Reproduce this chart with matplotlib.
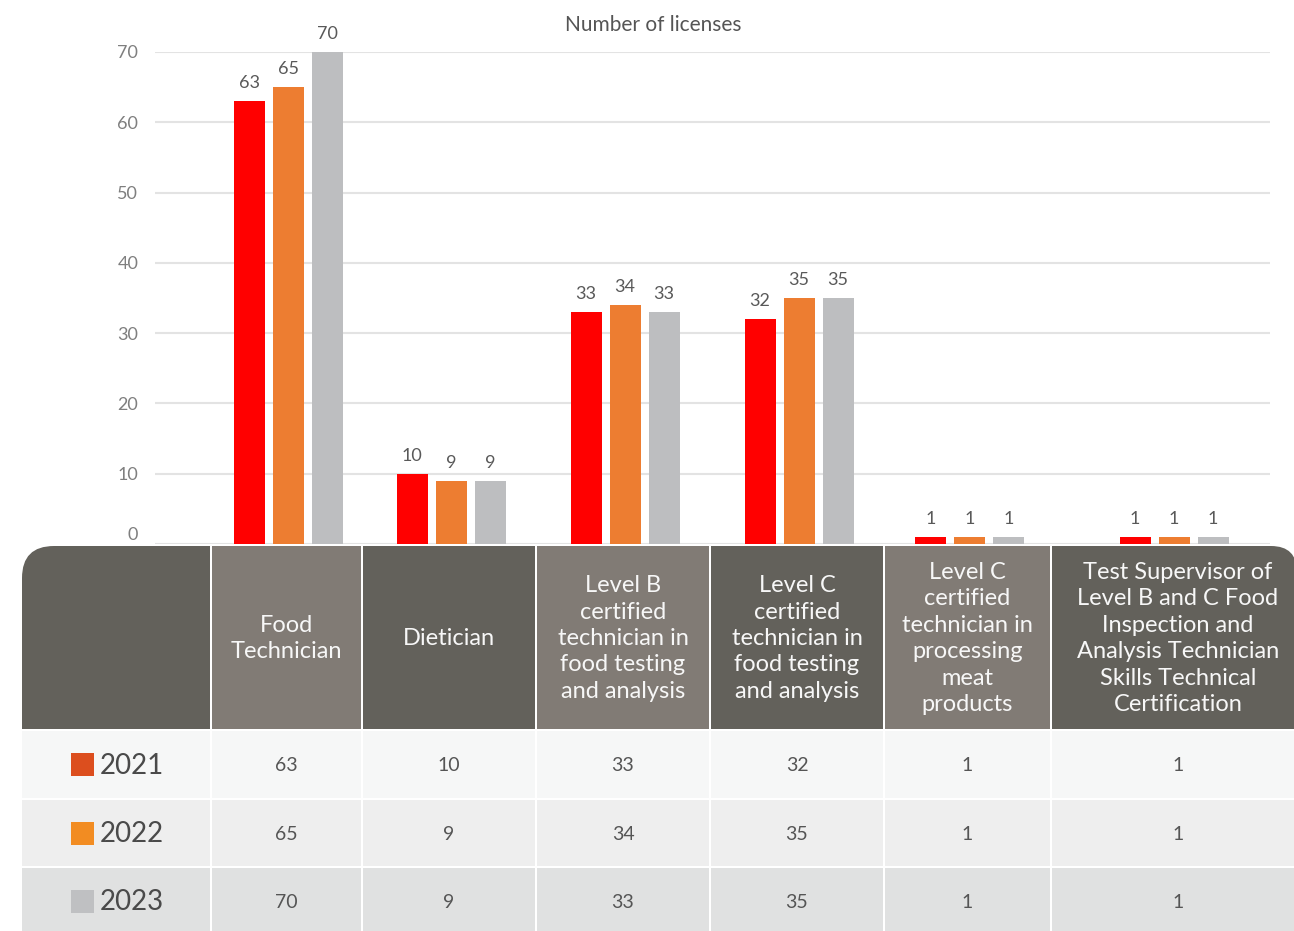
import numpy as np
import matplotlib.pyplot as plt
from matplotlib.patches import Rectangle, FancyBboxPatch
from matplotlib.transforms import ScaledTranslation

plt.rcParams['font.family'] = ['Lato', 'DejaVu Sans']

years = ['2021', '2022', '2023']
categories = ['Food\nTechnician', 'Dietician',
              'Level B\ncertified\ntechnician in\nfood testing\nand analysis',
              'Level C\ncertified\ntechnician in\nfood testing\nand analysis',
              'Level C\ncertified\ntechnician in\nprocessing\nmeat\nproducts',
              'Test Supervisor of\nLevel B and C Food\nInspection and\nAnalysis Technician\nSkills Technical\nCertification']
v2021 = [63, 10, 33, 32, 1, 1]
v2022 = [65, 9, 34, 35, 1, 1]
v2023 = [70, 9, 33, 35, 1, 1]
values = [v2021, v2022, v2023]
yticks = [0, 10, 20, 30, 40, 50, 60, 70]

bar_colors = ['#ff0000', '#ed7d31', '#bdbec0']
key_colors = ['#dc4e1e', '#f28c22', '#bfc0c2']
row_colors = ['#f6f7f7', '#eeeeee', '#e0e1e1']
head_dark = '#63615b'
head_light = '#817b75'

# layout in pixels
W, H = 1294, 931
edges = [22, 211, 362, 536, 710, 884, 1051, 1296]
head_top, head_bot = 546, 729
row_edges = [730, 799, 867, 936]
centers = [(edges[i] + edges[i + 1]) / 2 + 2 for i in range(1, len(edges) - 1)]
centers[-1] = 1174

fig = plt.figure(figsize=(W / 100, H / 100), dpi=100)

# ---- table ----
tab = fig.add_axes([0, 0, 1, 1])
tab.set_xlim(0, W)
tab.set_ylim(H, 0)
tab.axis('off')

gap = 1
for i in range(len(edges) - 1):
    x0, x1 = edges[i] + gap, edges[i + 1] - gap
    if i == 0:
        x0 = edges[0]
    col = head_dark if i % 2 == 0 else head_light
    if i == 0:
        tab.add_patch(FancyBboxPatch((x0, head_top), x1 - x0, head_bot - head_top,
                                     boxstyle='round,pad=0,rounding_size=32', fc=col, ec='none'))
        tab.add_patch(Rectangle((x0, head_top + 40), x1 - x0, head_bot - head_top - 40, fc=col, ec='none'))
        tab.add_patch(Rectangle((x0 + 40, head_top), x1 - x0 - 40, head_bot - head_top, fc=col, ec='none'))
    elif i == len(edges) - 2:
        tab.add_patch(FancyBboxPatch((x0, head_top), x1 - x0 + 2, head_bot - head_top,
                                     boxstyle='round,pad=0,rounding_size=26', fc=col, ec='none'))
        tab.add_patch(Rectangle((x0, head_top + 40), x1 - x0, head_bot - head_top - 40, fc=col, ec='none'))
        tab.add_patch(Rectangle((x0, head_top), x1 - x0 - 40, head_bot - head_top, fc=col, ec='none'))
    else:
        tab.add_patch(Rectangle((x0, head_top), x1 - x0, head_bot - head_top, fc=col, ec='none'))
    if i > 0:
        tab.text((edges[i] + edges[i + 1]) / 2 if i < len(edges) - 2 else 1178,
                 (head_top + head_bot) / 2 + 1, categories[i - 1],
                 ha='center', va='center', color='#f7f7f7', fontsize=17, linespacing=1.32)

    for r in range(3):
        y0, y1 = row_edges[r] + gap, row_edges[r + 1] - gap
        tab.add_patch(Rectangle((x0, y0), x1 - x0, y1 - y0, fc=row_colors[r], ec='none'))
        yc = (row_edges[r] + row_edges[r + 1]) / 2
        if i == 0:
            tab.add_patch(Rectangle((71, yc - 11.5), 23, 23, fc=key_colors[r], ec='none'))
            tab.text(100, yc + 1, years[r], ha='left', va='center', color='#4a4a4a', fontsize=20)
        else:
            xc = (edges[i] + edges[i + 1]) / 2 if i < len(edges) - 2 else 1178
            tab.text(xc, yc + 1, str(values[r][i - 1]), ha='center', va='center',
                     color='#555555', fontsize=14)

# ---- bar chart ----
left, right = 155, 1270
y0px, y70px = 544, 52
ax = fig.add_axes([left / W, 1 - y0px / H, (right - left) / W, (y0px - y70px) / H])
ax.set_xlim(left, right)
ax.set_ylim(0, 70)
ax.patch.set_alpha(0)
for s in ax.spines.values():
    s.set_visible(False)
ax.set_xticks([])
ax.set_yticks(yticks)
ax.tick_params(axis='y', length=0, labelsize=13, labelcolor='#7f7f7f', pad=12)
ax.grid(axis='y', color='#e3e3e3', linewidth=1.5)
ax.set_axisbelow(True)
# the zero label sits a little higher, clear of the table
zero = ax.get_yticklabels()[0]
zero.set_transform(zero.get_transform() + ScaledTranslation(0, 10 / 100, fig.dpi_scale_trans))

bw, step = 31, 39
x = np.array(centers)
for k in range(3):
    bars = ax.bar(x + (k - 1) * step, values[k], width=bw, color=bar_colors[k], zorder=3)
    ax.bar_label(bars, padding=7, fontsize=13, color='#595959')

fig.text(653 / W, 1 - 25 / H, 'Number of licenses', ha='center', va='center',
         fontsize=15, color='#555555')

fig.savefig('out.png', dpi=100)
